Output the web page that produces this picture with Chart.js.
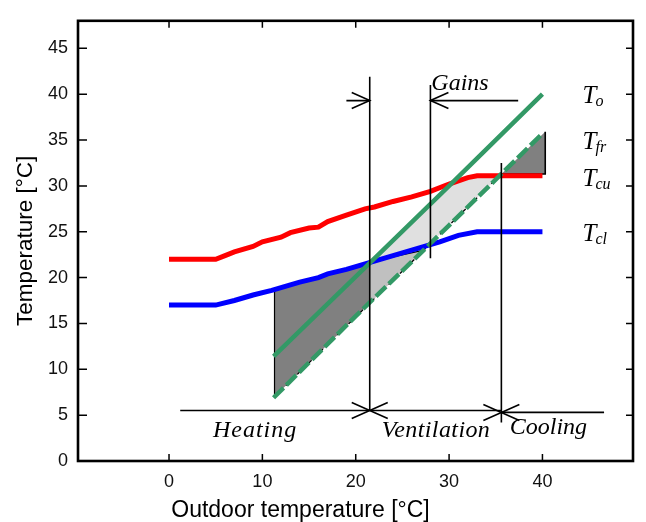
<!DOCTYPE html>
<html>
<head>
<meta charset="utf-8">
<script src="https://cdn.jsdelivr.net/npm/chart.js@4.4.1/dist/chart.umd.min.js"></script>
<style>
  body { margin: 0; background: #fff; }
  canvas { display: block; }
</style>
</head>
<body>
<canvas id="chart" width="646" height="522"></canvas>
<script>
// [outdoor temperature, temperature]
const tcuPoints = [[0, 22], [5, 22], [6, 22.4], [7, 22.8], [9, 23.4], [10, 23.9], [12, 24.4], [13, 24.9], [15, 25.4], [16, 25.5], [17, 26.1], [19, 26.8], [21, 27.5], [22, 27.7], [24, 28.3], [26, 28.8], [28, 29.4], [30, 30.2], [32, 30.9], [33, 31.1], [40, 31.1]];
const tclPoints = [[0, 17], [5, 17], [7, 17.5], [9, 18.1], [11, 18.6], [13, 19.2], [14, 19.5], [16, 20], [17, 20.4], [19, 20.9], [21, 21.5], [22, 21.8], [24, 22.4], [26, 23], [28, 23.6], [29, 23.9], [31, 24.6], [33, 25], [40, 25]];
const toPoints = [[11.2, 11.4], [20, 20.1], [30, 30], [40, 40]];
const tfrPoints = [[11.2, 6.9], [20, 15.8], [30, 25.7], [40, 35.7]];

// shaded areas
const heatingArea = [[11.3, 18.6], [21.5, 21.7], [21.5, 17.2], [11.3, 7.0], [11.3, 18.6]];
const gainsArea = [[21.5, 21.7], [30, 30], [31, 30.5], [33, 31.1], [35.4, 31.1], [27.3, 23.0], [21.5, 21.7]];
const ventArea = [[21.5, 21.7], [27.3, 23.0], [21.5, 17.2], [21.5, 21.7]];
const coolingArea = [[35.6, 31.3], [40.3, 35.9], [40.3, 31.3], [35.6, 31.3]];

// area borders
const heatingEdge = [[11.3, 7.0], [11.3, 18.6], [21.5, 21.7], [27.3, 23.0]];
const coolingEdge = [[35.6, 31.3], [40.3, 31.3], [40.3, 35.9]];
const frEdge = [[11.3, 7.0], [35.6, 31.3]];

// mode limits and arrows
const splitLines = [[[21.5, 5.5], [21.5, 41.9]], [[28.0, 22.1], [28.0, 41.0]], [[35.6, 4.2], [35.6, 32.5]]];
const modeLines = [[[1.2, 5.5], [21.5, 5.5]], [[21.5, 5.5], [35.6, 5.5]], [[35.6, 5.3], [46.6, 5.3]]];
const gainsLines = [[[19.0, 39.3], [21.5, 39.3]], [[28.0, 39.3], [37.4, 39.3]]];

const xTickValues = [0, 10, 20, 30, 40];
const yTickValues = [0, 5, 10, 15, 20, 25, 30, 35, 40, 45];
const modeLabels = ['Heating', 'Ventilation', 'Cooling'];
const curveLabels = [['T', 'o'], ['T', 'fr'], ['T', 'cu'], ['T', 'cl']];

const GREEN = '#339966';

function toXY(pts) {
  return pts.map(([x, y]) => ({ x, y }));
}

function area(pts, color) {
  return { data: toXY(pts), fill: 'shape', backgroundColor: color, borderColor: 'rgba(0,0,0,0)', borderWidth: 0, order: 30 };
}

function line(pts, color, width, order, dash) {
  return { data: toXY(pts), fill: false, borderColor: color, borderWidth: width, borderDash: dash || [], order: order };
}

const datasets = [
  area(heatingArea, '#808080'),
  area(gainsArea, '#e0e0e0'),
  area(ventArea, '#c0c0c0'),
  area(coolingArea, '#808080'),
  line(heatingEdge, '#000', 1.2, 20),
  line(coolingEdge, '#000', 1.6, 20),
  line(frEdge, '#000', 1.2, 20, [4, 4]),
  line(tcuPoints, '#ff0000', 5, 12),
  line(tclPoints, '#0000ff', 5, 12),
  line(toPoints, GREEN, 4.5, 10),
  line(tfrPoints, GREEN, 4.5, 10, [14, 4]),
];
splitLines.concat(modeLines, gainsLines).forEach((l) => datasets.push(line(l, '#000', 1.6, 5)));

function arrowHead(ctx, px, py, dir) {
  ctx.moveTo(px - dir * 18, py - 8);
  ctx.lineTo(px, py);
  ctx.lineTo(px - dir * 18, py + 8);
}

const decor = {
  id: 'decor',
  afterDatasetsDraw(chart) {
    const { ctx, chartArea: a } = chart;
    const x = chart.scales.x;
    const y = chart.scales.y;
    const X = (v) => x.getPixelForValue(v);
    const Y = (v) => y.getPixelForValue(v);
    ctx.save();
    ctx.strokeStyle = '#000';

    // ticks inside the frame
    ctx.lineWidth = 1.5;
    ctx.beginPath();
    x.ticks.forEach((t) => {
      ctx.moveTo(X(t.value), a.bottom); ctx.lineTo(X(t.value), a.bottom - 7);
      ctx.moveTo(X(t.value), a.top); ctx.lineTo(X(t.value), a.top + 7);
    });
    y.ticks.forEach((t) => {
      ctx.moveTo(a.left, Y(t.value)); ctx.lineTo(a.left + 9, Y(t.value));
      ctx.moveTo(a.right, Y(t.value)); ctx.lineTo(a.right - 7, Y(t.value));
    });
    ctx.stroke();

    ctx.lineWidth = 2.6;
    ctx.strokeRect(a.left, a.top, a.width, a.height);

    // arrow heads
    ctx.lineWidth = 1.6;
    ctx.beginPath();
    const g1 = gainsLines[0][1], g2 = gainsLines[1][0];
    arrowHead(ctx, X(g1[0]), Y(g1[1]), 1);
    arrowHead(ctx, X(g2[0]), Y(g2[1]), -1);
    [modeLines[0][1], modeLines[2][0]].forEach((p) => {
      arrowHead(ctx, X(p[0]), Y(p[1]), 1);
      arrowHead(ctx, X(p[0]), Y(p[1]), -1);
    });
    ctx.stroke();

    // texts
    ctx.fillStyle = '#000';
    ctx.textBaseline = 'alphabetic';
    ctx.textAlign = 'left';
    ctx.font = 'italic 24px "Liberation Serif"';
    ctx.fillText('Gains', X(28.1), Y(40.5));
    const modePos = [[4.7, 2.6], [22.8, 2.65], [36.5, 2.95]];
    const modeSpacing = ['1px', '0.4px', '0px'];
    modeLabels.forEach((s, i) => {
      ctx.letterSpacing = modeSpacing[i];
      ctx.fillText(s, X(modePos[i][0]), Y(modePos[i][1]));
    });
    ctx.letterSpacing = '0px';

    const curveY = [39.0, 34.0, 29.95, 24.0];
    curveLabels.forEach(([main, sub], i) => {
      const px = X(44.3), py = Y(curveY[i]);
      ctx.font = 'italic 25px "Liberation Serif"';
      ctx.fillText(main, px, py);
      const w = ctx.measureText(main).width;
      ctx.font = 'italic 16px "Liberation Serif"';
      ctx.fillText(sub, px + w - 1, py + 3);
    });

    ctx.font = '23px "Liberation Sans"';
    ctx.textAlign = 'center';
    ctx.fillText('Outdoor temperature [°C]', 300.5, 517);
    ctx.restore();
  },
};

new Chart(document.getElementById('chart'), {
  type: 'line',
  data: { datasets: datasets },
  plugins: [decor],
  options: {
    responsive: false,
    animation: false,
    devicePixelRatio: 1,
    layout: { padding: { top: 10, right: 13, left: 0, bottom: 0 } },
    elements: { point: { radius: 0 }, line: { tension: 0 } },
    plugins: { legend: { display: false }, tooltip: { enabled: false } },
    scales: {
      x: {
        type: 'linear',
        min: -9.75,
        max: 49.7,
        grid: { display: false, drawTicks: false },
        border: { display: false },
        ticks: { color: '#111', padding: 10, font: { family: 'Liberation Sans', size: 18 } },
        afterBuildTicks: (s) => { s.ticks = xTickValues.map((v) => ({ value: v })); },
        afterFit: (s) => { s.height = 61; },
      },
      y: {
        type: 'linear',
        min: 0,
        max: 48,
        grid: { display: false, drawTicks: false },
        border: { display: false },
        ticks: { color: '#111', padding: 10, font: { family: 'Liberation Sans', size: 18 } },
        afterBuildTicks: (s) => { s.ticks = yTickValues.map((v) => ({ value: v })); },
        afterFit: (s) => { s.width = 78; },
        title: {
          display: true,
          text: 'Temperature [°C]',
          color: '#000',
          padding: { top: 12, bottom: 0 },
          font: { family: 'Liberation Sans', size: 22.5 },
        },
      },
    },
  },
});
</script>
</body>
</html>
